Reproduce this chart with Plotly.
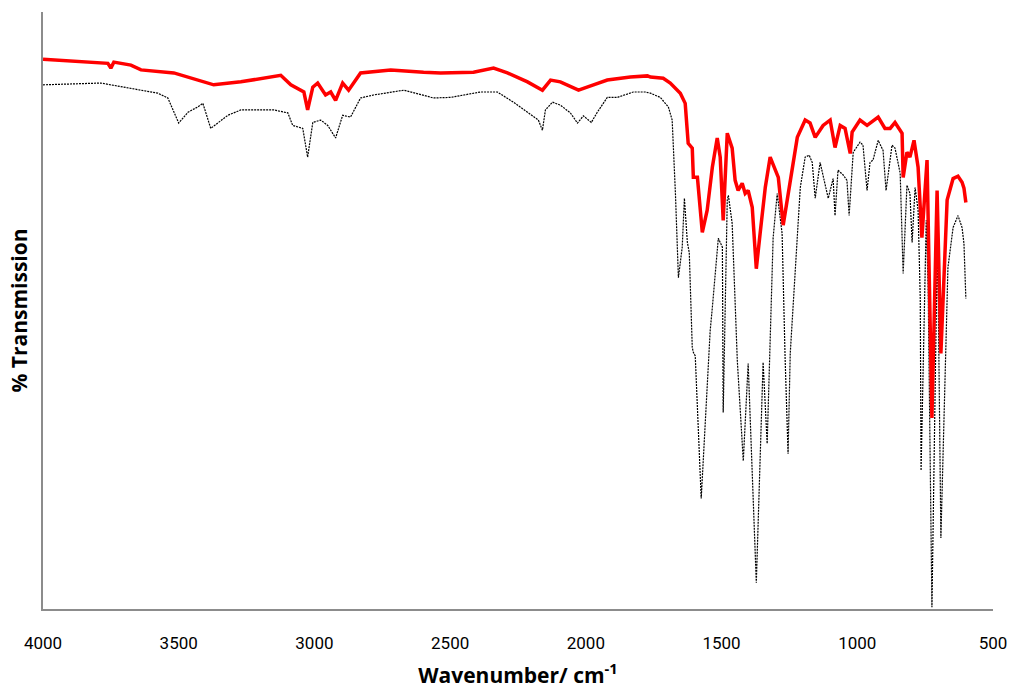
import plotly.graph_objects as go

# Red spectrum (wavenumber, % transmission, arbitrary scale)
red_wn = [4000, 3761, 3750, 3739, 3676, 3639, 3518, 3371, 3271, 3124, 3087, 3039, 3025, 3006, 2988,
          2959, 2940, 2922, 2896, 2874, 2830, 2719, 2598, 2535, 2414, 2340, 2289, 2215, 2160, 2130,
          2094, 2046, 2027, 1972, 1921, 1836, 1773, 1762, 1715, 1689, 1652, 1634, 1623, 1608, 1604,
          1589, 1571, 1553, 1534, 1516, 1505, 1494, 1479, 1461, 1450, 1439, 1424, 1413, 1402, 1387,
          1372, 1358, 1339, 1321, 1302, 1291, 1273, 1258, 1247, 1221, 1192, 1174, 1155, 1126, 1100,
          1082, 1063, 1045, 1026, 1019, 990, 964, 923, 898, 879, 861, 835, 831, 817, 806,
          791, 776, 762, 743, 725, 706, 692, 669, 647, 629, 614, 607, 600]
red_t = [92.1, 91.4, 90.6, 91.6, 91.1, 90.3, 89.8, 87.8, 88.3, 89.4, 87.8, 86.6, 83.6, 87.4, 88.1,
         86.1, 86.6, 85.2, 88.1, 86.9, 89.8, 90.3, 89.9, 89.8, 89.9, 90.6, 89.8, 88.3, 86.9, 88.6,
         88.3, 87.4, 86.9, 87.8, 88.6, 89.1, 89.3, 89.1, 88.9, 88.1, 86.4, 84.7, 78.0, 77.2, 72.3,
         72.3, 63.1, 66.8, 74.0, 78.9, 75.7, 65.1, 79.7, 77.2, 71.8, 70.1, 71.3, 69.6, 70.1, 67.3,
         57.0, 62.9, 70.6, 75.7, 73.5, 72.3, 64.3, 68.5, 71.8, 79.0, 81.9, 81.4, 79.0, 81.0, 81.9,
         77.3, 81.0, 80.5, 76.3, 79.9, 81.9, 81.0, 82.4, 80.5, 80.5, 81.5, 79.7, 72.3, 76.5, 75.7,
         78.5, 74.0, 62.2, 75.2, 32.0, 70.1, 42.8, 68.5, 72.1, 72.5, 71.5, 70.5, 68.1]

# Black dotted spectrum
blk_wn = [4000, 3787, 3577, 3540, 3500, 3466, 3430, 3411, 3382, 3319, 3271, 3150, 3098, 3080, 3043,
          3025, 3006, 2977, 2951, 2922, 2896, 2867, 2830, 2782, 2671, 2561, 2498, 2388, 2326, 2267,
          2215, 2175, 2160, 2149, 2123, 2094, 2057, 2031, 2009, 1980, 1958, 1921, 1884, 1825, 1781,
          1762, 1726, 1696, 1682, 1670, 1659, 1645, 1637, 1626, 1619, 1608, 1604, 1597, 1575, 1542,
          1534, 1512, 1497, 1494, 1479, 1475, 1461, 1442, 1420, 1402, 1372, 1347, 1332, 1310, 1295,
          1277, 1266, 1255, 1247, 1221, 1210, 1192, 1177, 1166, 1155, 1137, 1107, 1089, 1082, 1071,
          1052, 1038, 1030, 1015, 990, 979, 964, 953, 942, 923, 905, 894, 872, 861, 842,
          831, 817, 806, 798, 787, 776, 768, 765, 746, 739, 725, 706, 703, 692, 666,
          647, 629, 614, 607, 600]
blk_t = [87.8, 88.1, 86.4, 85.6, 81.4, 83.2, 84.1, 84.7, 80.5, 82.7, 83.6, 83.6, 83.1, 81.0, 80.5,
         75.7, 81.5, 81.9, 81.0, 78.9, 82.7, 82.4, 85.6, 86.1, 86.9, 85.6, 85.7, 86.6, 86.6, 84.9,
         83.2, 81.9, 80.2, 83.6, 84.9, 84.4, 83.1, 81.4, 82.6, 81.5, 83.2, 85.7, 85.7, 86.6, 86.6,
         86.4, 85.7, 84.1, 81.9, 69.6, 55.5, 60.6, 68.8, 61.4, 59.7, 43.8, 43.0, 42.4, 18.5, 46.6,
         50.5, 62.1, 60.6, 32.9, 68.5, 69.3, 64.6, 41.6, 24.8, 41.1, 4.4, 41.3, 27.7, 62.2, 69.6,
         62.9, 42.1, 26.0, 42.8, 63.9, 70.6, 75.7, 76.0, 74.8, 68.8, 74.8, 68.8, 72.1, 65.9, 73.5,
         72.7, 71.8, 65.9, 76.5, 78.2, 77.7, 70.1, 74.8, 75.2, 78.5, 76.8, 70.1, 77.7, 77.2, 73.0,
         56.2, 71.0, 69.6, 61.4, 70.6, 66.8, 52.0, 23.2, 65.1, 53.9, 0.3, 58.9, 57.2, 11.9, 57.2,
         63.9, 65.9, 63.9, 61.2, 52.0]

x_ticks = [4000, 3500, 3000, 2500, 2000, 1500, 1000, 500]

fig = go.Figure()
fig.add_trace(go.Scatter(x=blk_wn, y=blk_t, mode="lines",
                         line=dict(color="black", width=1.2, dash="2px,1px"),
                         showlegend=False))
fig.add_trace(go.Scatter(x=red_wn, y=red_t, mode="lines",
                         line=dict(color="#ff0000", width=3.5),
                         showlegend=False))

fig.update_layout(
    width=1015, height=690,
    margin=dict(l=43, r=22, t=12, b=81),
    paper_bgcolor="white", plot_bgcolor="white",
    font=dict(family="Roboto, Arial", color="black"),
    xaxis=dict(range=[4000, 500], tickvals=x_ticks, ticks="", automargin=False,
               showline=True, linecolor="#8c8c8c", linewidth=1.5,
               showgrid=False, zeroline=False, ticklabelstandoff=18,
               tickfont=dict(size=17),
               title=dict(text="<b>Wavenumber/ cm<sup>-1</sup></b>",
                          font=dict(size=21, family="Open Sans, Arial"), standoff=16)),
    yaxis=dict(range=[0, 100], showticklabels=False, ticks="", automargin=False,
               showline=True, linecolor="#8c8c8c", linewidth=1.5,
               showgrid=False, zeroline=False,
               title=dict(text="<b>% Transmission</b>",
                          font=dict(size=21, family="Open Sans, Arial"), standoff=8)),
)

fig.write_html("out.html")
